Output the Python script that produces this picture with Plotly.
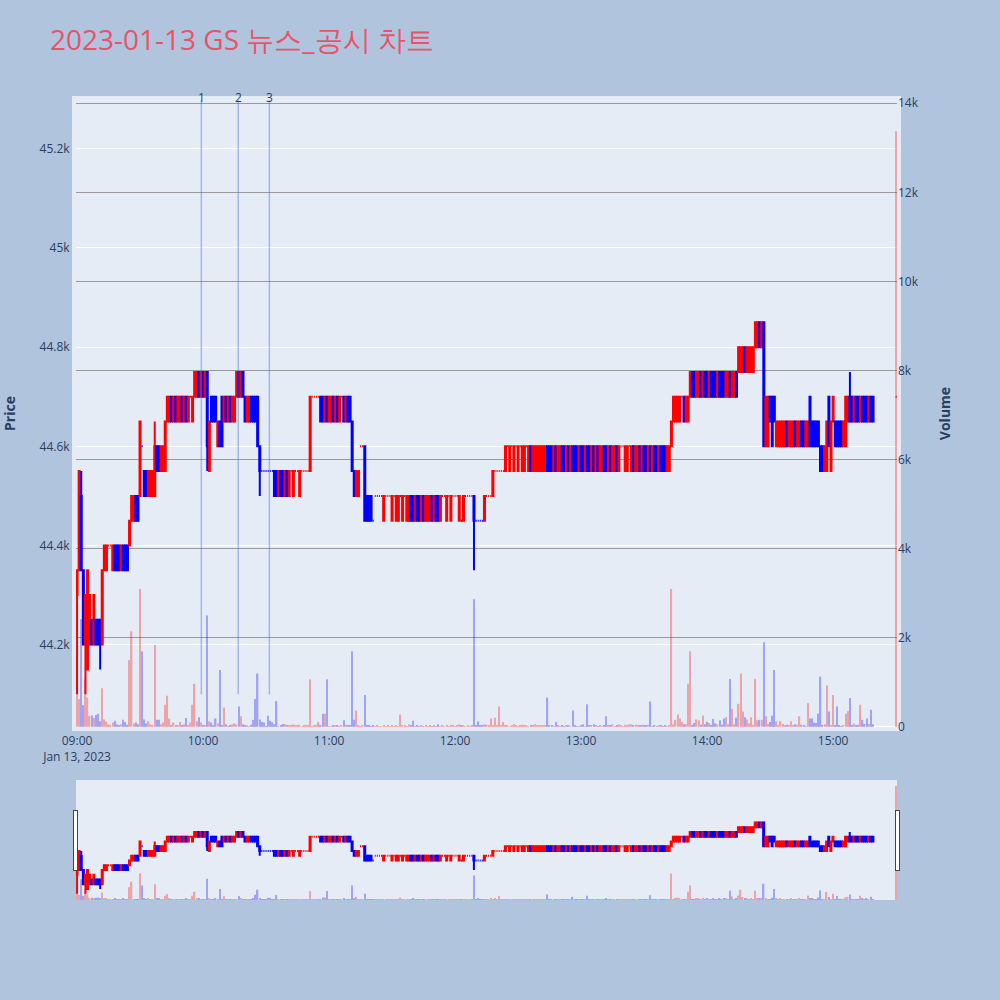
import plotly.graph_objects as go
import pandas as pd

title_text = "2023-01-13 GS 뉴스_공시 차트"
session_start = "2023-01-13 09:00"
n_session_minutes = 380
closing_time = "2023-01-13 15:30"

# per-minute open / close (09:00 .. 15:19) followed by the 15:30 closing auction
opens = [
    44300, 44350, 44500, 44350, 44200, 44150, 44200, 44250, 44200, 44250,
    44250, 44250, 44200, 44350, 44350, 44400, 44400, 44350, 44400, 44400,
    44400, 44350, 44400, 44400, 44400, 44400, 44450, 44450, 44500, 44500,
    44500, 44600, 44550, 44550, 44500, 44500, 44500, 44500, 44600, 44600,
    44550, 44550, 44550, 44650, 44650, 44700, 44650, 44700, 44650, 44650,
    44700, 44650, 44700, 44650, 44700, 44650, 44700, 44700, 44750, 44700,
    44750, 44700, 44750, 44550, 44700, 44700, 44700, 44600, 44650, 44700,
    44650, 44700, 44650, 44700, 44650, 44650, 44700, 44750, 44700, 44750,
    44700, 44650, 44650, 44700, 44700, 44700, 44700, 44600, 44550, 44550,
    44550, 44550, 44550, 44550, 44550, 44550, 44500, 44550, 44550, 44500,
    44550, 44500, 44550, 44500, 44550, 44550, 44500, 44550, 44550, 44550,
    44550, 44550, 44700, 44700, 44700, 44700, 44700, 44700, 44650, 44700,
    44650, 44650, 44700, 44650, 44700, 44650, 44700, 44700, 44650, 44700,
    44700, 44650, 44550, 44500, 44500, 44600, 44600, 44600, 44500, 44500,
    44500, 44450, 44500, 44500, 44500, 44500, 44450, 44500, 44500, 44500,
    44450, 44500, 44450, 44450, 44500, 44450, 44500, 44450, 44450, 44500,
    44500, 44450, 44500, 44500, 44450, 44500, 44450, 44450, 44450, 44500,
    44450, 44500, 44500, 44450, 44500, 44500, 44450, 44500, 44450, 44500,
    44500, 44500, 44450, 44450, 44450, 44500, 44500, 44500, 44500, 44500,
    44450, 44450, 44450, 44450, 44450, 44500, 44500, 44500, 44500, 44550,
    44550, 44550, 44550, 44550, 44550, 44600, 44550, 44600, 44550, 44600,
    44550, 44600, 44550, 44550, 44600, 44550, 44600, 44550, 44550, 44550,
    44550, 44550, 44550, 44550, 44600, 44600, 44600, 44550, 44600, 44550,
    44550, 44600, 44600, 44550, 44600, 44550, 44600, 44600, 44600, 44550,
    44600, 44600, 44550, 44600, 44600, 44550, 44600, 44550, 44600, 44550,
    44550, 44600, 44600, 44550, 44600, 44550, 44550, 44600, 44550, 44600,
    44600, 44550, 44550, 44600, 44550, 44600, 44550, 44550, 44600, 44550,
    44600, 44600, 44550, 44600, 44550, 44600, 44600, 44550, 44600, 44600,
    44600, 44550, 44550, 44600, 44650, 44650, 44650, 44650, 44700, 44700,
    44650, 44650, 44700, 44750, 44750, 44700, 44700, 44750, 44700, 44750,
    44750, 44700, 44750, 44750, 44750, 44700, 44750, 44750, 44750, 44700,
    44700, 44750, 44700, 44700, 44750, 44750, 44750, 44750, 44800, 44750,
    44750, 44750, 44750, 44800, 44800, 44850, 44800, 44850, 44600, 44600,
    44700, 44700, 44700, 44600, 44600, 44600, 44600, 44600, 44650, 44600,
    44600, 44600, 44650, 44600, 44600, 44650, 44650, 44600, 44600, 44700,
    44650, 44650, 44650, 44650, 44600, 44600, 44550, 44550, 44700, 44550,
    44650, 44650, 44650, 44650, 44650, 44600, 44600, 44650, 44700, 44700,
    44650, 44700, 44700, 44650, 44700, 44700, 44700, 44650, 44700, 44700,
    44700,
]
closes = [
    44350, 44550, 44350, 44200, 44300, 44350, 44300, 44200, 44300, 44200,
    44200, 44200, 44350, 44400, 44400, 44400, 44400, 44400, 44350, 44350,
    44350, 44400, 44350, 44350, 44350, 44450, 44500, 44500, 44450, 44450,
    44650, 44600, 44500, 44500, 44550, 44550, 44550, 44600, 44550, 44550,
    44600, 44600, 44650, 44700, 44700, 44650, 44700, 44650, 44700, 44700,
    44650, 44700, 44650, 44700, 44700, 44700, 44750, 44750, 44700, 44750,
    44700, 44750, 44600, 44650, 44650, 44650, 44650, 44650, 44600, 44600,
    44700, 44650, 44700, 44650, 44700, 44700, 44750, 44700, 44750, 44700,
    44650, 44700, 44700, 44650, 44650, 44650, 44600, 44550, 44550, 44550,
    44550, 44550, 44550, 44550, 44500, 44500, 44550, 44500, 44500, 44550,
    44500, 44550, 44550, 44550, 44550, 44550, 44550, 44550, 44550, 44550,
    44550, 44700, 44700, 44700, 44700, 44700, 44650, 44650, 44700, 44650,
    44700, 44700, 44650, 44700, 44650, 44700, 44700, 44650, 44700, 44650,
    44650, 44550, 44500, 44550, 44550, 44600, 44600, 44450, 44450, 44450,
    44450, 44450, 44500, 44500, 44500, 44500, 44500, 44500, 44500, 44500,
    44500, 44500, 44500, 44500, 44500, 44500, 44500, 44500, 44500, 44450,
    44450, 44500, 44450, 44450, 44500, 44450, 44500, 44500, 44500, 44450,
    44500, 44450, 44450, 44500, 44500, 44500, 44500, 44500, 44500, 44500,
    44500, 44500, 44500, 44450, 44500, 44500, 44500, 44500, 44500, 44450,
    44450, 44450, 44450, 44450, 44500, 44500, 44500, 44500, 44550, 44550,
    44550, 44550, 44550, 44550, 44600, 44600, 44600, 44600, 44600, 44600,
    44600, 44600, 44600, 44600, 44600, 44600, 44550, 44600, 44600, 44600,
    44600, 44600, 44600, 44600, 44550, 44550, 44550, 44600, 44550, 44600,
    44600, 44550, 44550, 44600, 44550, 44600, 44550, 44550, 44550, 44600,
    44550, 44550, 44600, 44550, 44550, 44600, 44550, 44600, 44550, 44600,
    44600, 44550, 44550, 44600, 44550, 44600, 44600, 44550, 44600, 44600,
    44600, 44600, 44600, 44600, 44600, 44550, 44600, 44600, 44550, 44600,
    44550, 44550, 44600, 44550, 44600, 44550, 44550, 44600, 44550, 44550,
    44550, 44600, 44600, 44650, 44700, 44700, 44700, 44700, 44700, 44650,
    44700, 44700, 44750, 44700, 44700, 44750, 44750, 44700, 44750, 44700,
    44700, 44750, 44700, 44700, 44700, 44750, 44700, 44700, 44700, 44750,
    44750, 44700, 44750, 44750, 44700, 44800, 44800, 44800, 44750, 44800,
    44800, 44800, 44800, 44850, 44850, 44800, 44850, 44600, 44700, 44700,
    44650, 44600, 44650, 44650, 44650, 44650, 44650, 44650, 44600, 44650,
    44650, 44650, 44600, 44650, 44650, 44600, 44600, 44650, 44650, 44600,
    44600, 44600, 44600, 44600, 44550, 44550, 44600, 44650, 44600, 44650,
    44700, 44600, 44600, 44600, 44600, 44650, 44700, 44700, 44650, 44650,
    44700, 44650, 44650, 44700, 44650, 44650, 44650, 44700, 44650, 44650,
    44700,
]
# shadows that reach beyond the candle body (minute index -> price)
wick_highs = {0: 44350, 2: 44550, 37: 44650, 62: 44750, 368: 44750}
wick_lows = {0: 44100, 4: 44100, 11: 44150, 62: 44550, 87: 44500, 189: 44350}

volumes = [
    1640, 630, 2420, 490, 1070, 660, 250, 260, 200, 270,
    300, 130, 870, 170, 120, 60, 30, 100, 140, 60,
    30, 60, 160, 110, 50, 1500, 2150, 80, 100, 60,
    3100, 1700, 170, 80, 130, 60, 40, 1840, 160, 160,
    60, 100, 500, 700, 190, 30, 100, 40, 40, 110,
    30, 60, 200, 40, 100, 500, 970, 130, 220, 100,
    40, 30, 2500, 130, 100, 40, 190, 80, 1280, 40,
    440, 60, 20, 40, 60, 80, 60, 460, 240, 60,
    40, 30, 20, 50, 160, 630, 1200, 170, 110, 100,
    20, 250, 140, 110, 60, 580, 20, 40, 70, 70,
    30, 40, 30, 60, 40, 30, 50, 20, 30, 40,
    30, 1070, 20, 40, 50, 110, 30, 300, 300, 1070,
    20, 20, 30, 40, 30, 20, 40, 150, 50, 30,
    30, 1700, 160, 370, 40, 20, 30, 720, 40, 30,
    20, 30, 20, 30, 20, 20, 30, 20, 30, 20,
    30, 20, 30, 20, 280, 30, 40, 20, 60, 40,
    140, 20, 40, 20, 30, 20, 40, 20, 30, 20,
    30, 20, 60, 20, 30, 20, 40, 20, 50, 30,
    20, 30, 60, 40, 30, 20, 30, 20, 40, 2870,
    30, 130, 40, 30, 60, 50, 30, 190, 30, 210,
    40, 460, 30, 110, 40, 30, 20, 40, 60, 30,
    20, 30, 50, 30, 40, 20, 30, 40, 60, 30,
    40, 30, 40, 30, 660, 30, 40, 20, 110, 30,
    20, 30, 20, 40, 30, 20, 370, 30, 20, 20,
    30, 60, 20, 510, 40, 40, 60, 40, 20, 30,
    20, 30, 240, 40, 30, 60, 20, 30, 60, 30,
    20, 50, 30, 60, 60, 30, 50, 30, 40, 50,
    40, 30, 50, 570, 20, 30, 20, 30, 30, 20,
    30, 20, 30, 3100, 60, 160, 280, 190, 110, 60,
    60, 970, 1700, 40, 90, 170, 150, 50, 260, 60,
    120, 90, 50, 180, 80, 60, 150, 50, 190, 220,
    60, 1080, 410, 60, 210, 520, 1200, 350, 220, 170,
    80, 220, 30, 1080, 150, 160, 160, 1900, 240, 70,
    110, 250, 1280, 130, 40, 130, 70, 30, 50, 40,
    130, 30, 60, 50, 240, 50, 30, 20, 540, 190,
    190, 100, 90, 300, 1130, 50, 60, 930, 350, 40,
    720, 30, 460, 30, 20, 40, 300, 360, 650, 40,
    80, 30, 50, 500, 160, 70, 190, 70, 390, 60,
    13370,
]

news_times = ["2023-01-13 09:59:10", "2023-01-13 10:16:45", "2023-01-13 10:31:35"]
news_labels = ["1", "2", "3"]

# ---------------------------------------------------------------------------
times = list(pd.date_range(session_start, periods=n_session_minutes, freq="min")) + [pd.Timestamp(closing_time)]
n = len(times)
opens, closes, volumes = opens[:n], closes[:n], volumes[:n]
highs = [max(o, c, wick_highs.get(i, 0)) for i, (o, c) in enumerate(zip(opens, closes))]
lows = [min(o, c, wick_lows.get(i, 10 ** 9)) for i, (o, c) in enumerate(zip(opens, closes))]

# candle direction (same rule plotly uses for open == close)
directions = []
prev_close, inc = None, True
for o, c in zip(opens, closes):
    if c != o:
        inc = c > o
    elif prev_close is not None and c != prev_close:
        inc = c > prev_close
    prev_close = c
    directions.append(inc)
vol_colors = ["red" if d else "blue" for d in directions]

price_lo = min(lows) * 0.9985
price_hi = max(highs) * 1.01

fig = go.Figure()
fig.add_trace(go.Candlestick(
    x=times, open=opens, high=highs, low=lows, close=closes,
    increasing=dict(line=dict(color="red", width=2), fillcolor="red"),
    decreasing=dict(line=dict(color="blue", width=2), fillcolor="blue"),
    showlegend=False, name="Price", yaxis="y",
))
fig.add_trace(go.Bar(
    x=times, y=volumes, marker=dict(color=vol_colors, line=dict(width=0)),
    opacity=0.3, showlegend=False, name="Volume", yaxis="y2",
))

for t, lab in zip(news_times, news_labels):
    fig.add_shape(type="line", xref="x", yref="y", x0=t, x1=t, y0=min(lows), y1=price_hi,
                  line=dict(color="royalblue", width=1.5), opacity=0.4)
    fig.add_annotation(x=t, y=price_hi, xref="x", yref="y", text=lab, showarrow=False,
                       yanchor="middle", yshift=3, font=dict(size=12, color="#2a3f5f"))

plot_bg = "#E5ECF6"
fig.update_layout(
    width=1000, height=1000,
    paper_bgcolor="#B0C4DE", plot_bgcolor=plot_bg,
    margin=dict(l=76, r=103, t=100, b=100),
    title=dict(text=title_text, x=0.05, xanchor="left", y=0.96, yanchor="middle",
               font=dict(size=28, color="#E9536A")),
    showlegend=False,
    bargap=0.35,
    xaxis=dict(
        type="date",
        range=["2023-01-13 08:59:30", "2023-01-13 15:30:25"],
        rangeslider=dict(visible=True, thickness=0.15),
        showline=True, mirror=True, linewidth=4, linecolor=plot_bg,
        showgrid=False,
    ),
    yaxis=dict(
        title=dict(text="<b>Price</b>", font=dict(size=14), standoff=24),
        range=[price_lo, price_hi],
        showline=True, mirror=True, linewidth=4, linecolor=plot_bg,
        gridcolor="white", automargin=False,
    ),
    yaxis2=dict(
        title=dict(text="<b>Volume</b>", font=dict(size=14), standoff=22),
        overlaying="y", side="right",
        gridcolor="#9a9a9a", zeroline=True, zerolinecolor="white",
        rangemode="tozero", automargin=False,
    ),
)

fig.write_html("out.html", config={"displayModeBar": False},
               post_script="document.body.style.margin='0';")
